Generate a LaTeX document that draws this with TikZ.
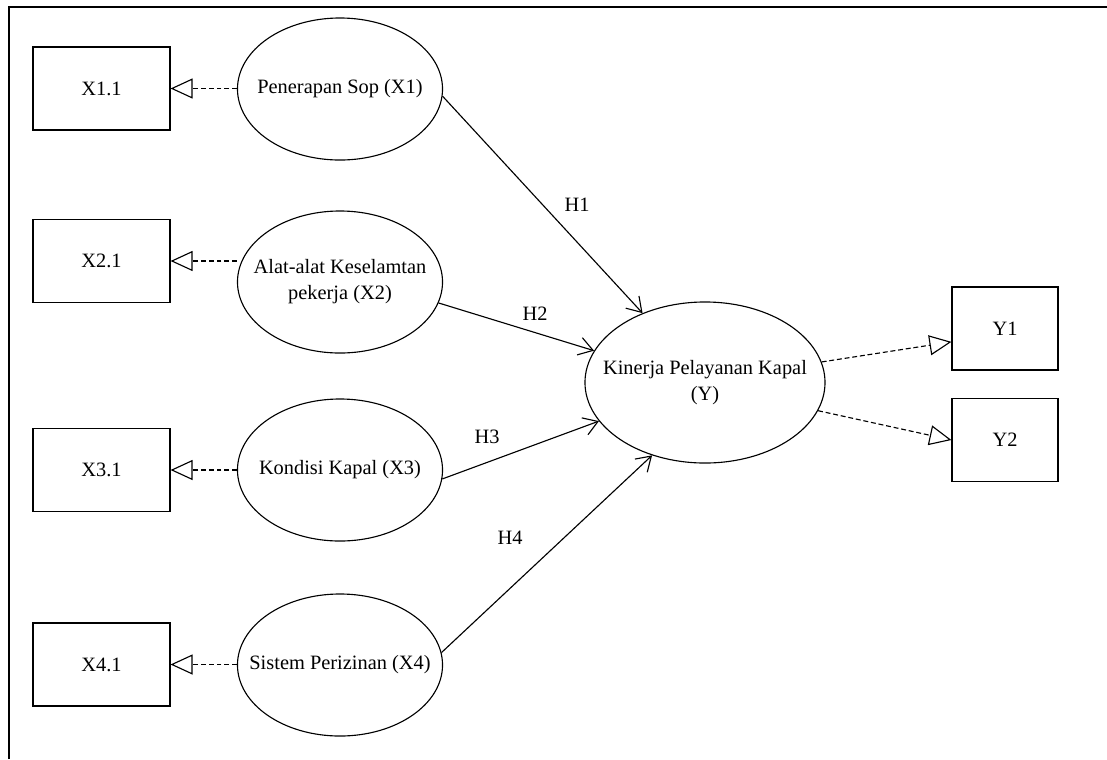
\documentclass[tikz,border=0pt]{standalone}
\usepackage{fontspec}
\setmainfont{Liberation Serif}
\usetikzlibrary{arrows.meta,shapes.geometric,positioning,calc}

\begin{document}
\begin{tikzpicture}[x=0.025cm,y=-0.025cm,line width=0.8pt]

\tikzset{latent/.style={font=\fontsize{14.5}{18.5}\selectfont,shape=ellipse,draw,inner ysep=0pt,inner xsep=-1cm,align=center,minimum width=5.125cm,minimum height=3.55cm},
indicator/.style={font=\fontsize{14.5}{18.5}\selectfont,shape=rectangle,draw,minimum width=3.425cm,minimum height=2.075cm},
hlabel/.style={font=\fontsize{14.5}{18.5}\selectfont,inner sep=0pt},
load/.style={dash pattern=on 3.5pt off 2pt,-{Triangle[open,length=5.5mm,width=5mm]}},
hyp/.style={-{Straight Barb[length=3.5mm,width=4.5mm]}}}

\useasboundingbox (0,0) rectangle (1107,759);

% Frame
\draw[line width=2pt] (9,759) -- (9,7) -- (1107,7);

% latent nodes
\node[latent] (x1) at (340,89) {Penerapan Sop (X1)};
\node[latent] (x2) at (340,282) {Alat-alat Keselamtan\\pekerja (X2)};
\node[latent] (x3) at (340,470) {Kondisi Kapal (X3)};
\node[latent] (x4) at (340,665) {Sistem Perizinan (X4)};
\node[latent,minimum width=6cm,minimum height=4.025cm] (y) at (705,382.5) {Kinerja Pelayanan Kapal\\(Y)};

% indicator nodes
\foreach \i/\y in {1/88.5,2/261,3/470,4/664.5} \node[indicator] (x\i1) at (101.5,\y) {X\i.1};
\node[indicator,minimum width=2.65cm] (y1) at (1005,328.5) {Y1};
\node[indicator,minimum width=2.65cm] (y2) at (1005,440) {Y2};

% Loadings
\foreach \i in {1,...,4} \draw[load] (x\i1.east -| x\i.west) -- (x\i1.east);
\draw[load] (y.10) -- (y1.194);
\draw[load] (y.-14) -- (y2.west);

% Hypotheses
\draw[hyp] (x1.-4) -- (y.132);
\draw[hyp] (x2.-12) -- (y.164);
\draw[hyp] (x3.-5) -- (y.200);
\draw[hyp] (x4.7) -- (y.234);
\node[hlabel] (h1) at (577,205) {H1};
\node[hlabel] (h2) at (535,314) {H2};
\node[hlabel] (h3) at (487,437) {H3};
\node[hlabel] (h4) at (510,538) {H4};

\end{tikzpicture}
\end{document}
